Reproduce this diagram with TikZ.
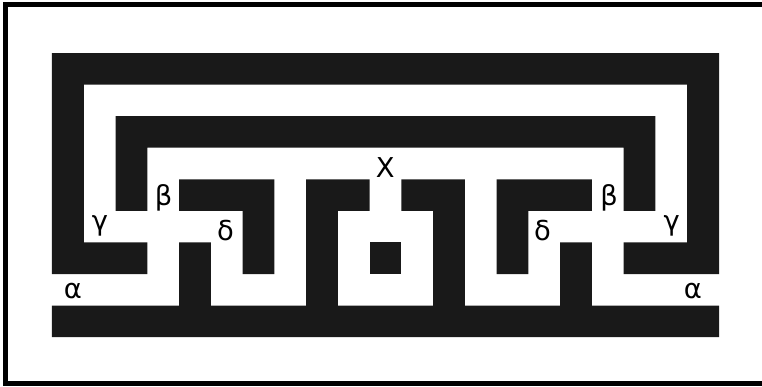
\documentclass[tikz,border=0pt]{standalone}
\usepackage{fontspec}
\setmainfont{DejaVu Sans}
\usepackage{xcolor}
\usepackage{tikz}

\begin{document}
\begin{tikzpicture}[x=1cm, y=-0.994cm]
\tikzset{
  wall/.style={fill=black!90, draw=none},
  frameline/.style={draw=black, line width=4.5pt},
  letter/.style={anchor=base, inner sep=0pt, font=\fontsize{24.5}{29}\selectfont}
}
\useasboundingbox (-1.637,-1.679) rectangle (22.354,10.551);
% frame (open on the right)
\draw[frameline] (23,-1.537) -- (-1.464,-1.537) -- (-1.464,10.472) -- (23,10.472);
% outer band
\fill[wall] (0,0) -- (21,0) -- (21,7) -- (18,7) -- (18,6) -- (20,6) -- (20,1) -- (1,1)
  -- (1,6) -- (3,6) -- (3,7) -- (0,7) -- cycle;
% second band
\fill[wall] (2,2) -- (19,2) -- (19,5) -- (18,5) -- (18,3) -- (3,3) -- (3,5) -- (2,5) -- cycle;
% inner hooks
\fill[wall] (4,4) -- (7,4) -- (7,7) -- (6,7) -- (6,5) -- (4,5) -- cycle;
\fill[wall] (14,4) -- (17,4) -- (17,5) -- (15,5) -- (15,7) -- (14,7) -- cycle;
% bottom band with stems
\fill[wall] (0,8) -- (4,8) -- (4,6) -- (5,6) -- (5,8) -- (8,8) -- (8,4) -- (10,4) -- (10,5)
  -- (9,5) -- (9,8) -- (12,8) -- (12,5) -- (11,5) -- (11,4) -- (13,4) -- (13,8) -- (16,8)
  -- (16,6) -- (17,6) -- (17,8) -- (21,8) -- (21,9) -- (0,9) -- cycle;
% centre square
\fill[wall] (10,6) rectangle (11,7);
% labels
\node[letter] (alphaL) at (0.66,7.763) {α};
\node[letter] (alphaR) at (20.18,7.763) {α};
\node[letter] (gammaL) at (1.51,5.608) {γ};
\node[letter] (gammaR) at (19.51,5.608) {γ};
\node[letter] (betaL) at (3.51,4.816) {β};
\node[letter] (betaR) at (17.54,4.816) {β};
\node[letter] (deltaL) at (5.46,5.925) {δ};
\node[letter] (deltaR) at (15.44,5.925) {δ};
\node[letter] (chi) at (10.49,3.929) {X};
\end{tikzpicture}
\end{document}
